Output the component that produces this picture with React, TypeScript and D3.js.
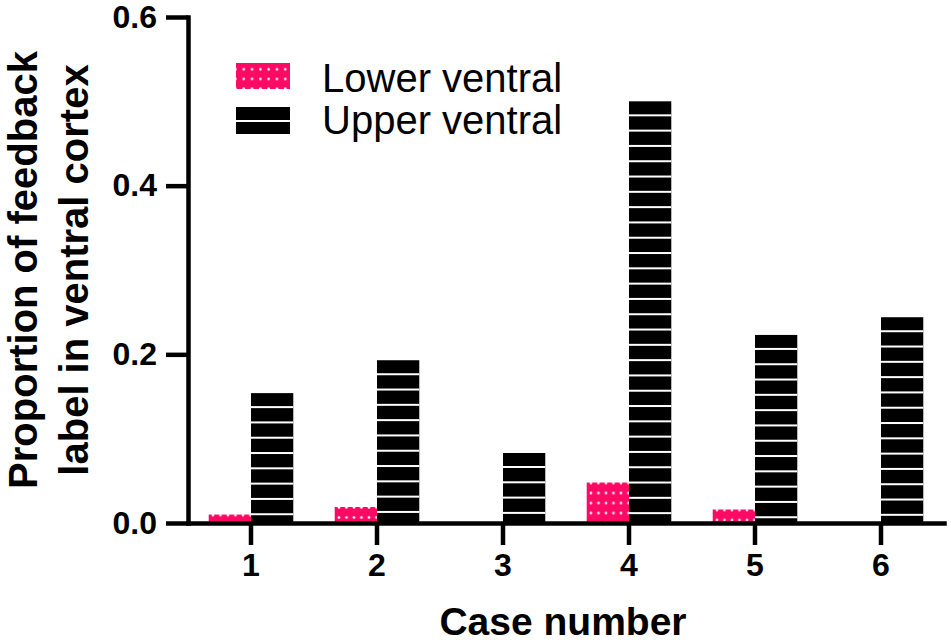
import { useRef, useEffect } from 'react';
import * as d3 from 'd3';

const cases = ['1', '2', '3', '4', '5', '6'];
const seriesNames = ['Lower ventral', 'Upper ventral'];
const lowerVentral = [0.01, 0.019, 0, 0.048, 0.016, 0];
const upperVentral = [0.154, 0.193, 0.083, 0.5, 0.223, 0.244];
const yTicks = [0, 0.2, 0.4, 0.6];

const PINK = '#fe0a64';
const FONT = "'Liberation Sans', Arial, sans-serif";

const width = 951;
const height = 644;
const margin = { top: 17, right: 7, bottom: 121, left: 188 };

// pink fill with a grid of small white dots, anchored at (ox, oy)
const addDotPattern = (
  defs: d3.Selection<SVGDefsElement, unknown, null, undefined>,
  id: string,
  ox: number,
  oy: number,
  w: number,
  h: number,
) => {
  const p = defs
    .append('pattern')
    .attr('id', id)
    .attr('patternUnits', 'userSpaceOnUse')
    .attr('width', w)
    .attr('height', h)
    .attr('patternTransform', `translate(${ox},${oy})`);
  p.append('rect').attr('width', w).attr('height', h).attr('fill', PINK);
  p.append('circle').attr('cx', w / 2).attr('cy', 3.5).attr('r', 1.3).attr('fill', '#fff');
};

export default function App() {
  const svgRef = useRef<SVGSVGElement>(null);

  useEffect(() => {
    if (!svgRef.current) return;
    const svg = d3.select(svgRef.current);
    svg.selectAll('*').remove();

    const innerWidth = width - margin.left - margin.right;
    const innerHeight = height - margin.top - margin.bottom;

    const x = d3.scaleBand<string>().domain(cases).range([0, innerWidth]);
    const xSub = d3
      .scaleBand<string>()
      .domain(seriesNames)
      .range([0, x.bandwidth()])
      .paddingOuter(0.49);
    const y = d3.scaleLinear().domain([0, 0.6]).range([innerHeight, 0]);

    const defs = svg.append('defs');
    const g = svg
      .append('g')
      .attr('transform', `translate(${margin.left},${margin.top})`);

    const rows = cases.map((c, i) => ({ c, lower: lowerVentral[i], upper: upperVentral[i] }));

    // lower ventral bars
    rows.forEach((d) => {
      if (d.lower <= 0) return;
      const bx = x(d.c)! + xSub('Lower ventral')!;
      const by = y(d.lower);
      const id = `dots-${d.c}`;
      addDotPattern(defs, id, bx + margin.left, by + margin.top, 7.5, 10);
      g.append('rect')
        .attr('x', bx)
        .attr('y', by)
        .attr('width', xSub.bandwidth())
        .attr('height', innerHeight - by)
        .attr('fill', `url(#${id})`);
    });

    // upper ventral bars: black with thin white stripes from the top
    rows.forEach((d) => {
      const bx = x(d.c)! + xSub('Upper ventral')!;
      const by = y(d.upper);
      g.append('rect')
        .attr('x', bx)
        .attr('y', by)
        .attr('width', xSub.bandwidth())
        .attr('height', innerHeight - by)
        .attr('fill', '#000');
      g.selectAll(null)
        .data(d3.range(by + 13, innerHeight - 4, 15.3))
        .join('rect')
        .attr('x', bx)
        .attr('y', (s) => s)
        .attr('width', xSub.bandwidth())
        .attr('height', 2)
        .attr('fill', '#fff');
    });

    // axes
    const yAxis = d3
      .axisLeft(y)
      .tickValues(yTicks)
      .tickFormat(d3.format('.1f'))
      .tickSize(22)
      .tickSizeOuter(0)
      .tickPadding(9);
    const xAxis = d3.axisBottom(x).tickSize(22).tickSizeOuter(0).tickPadding(8);

    const ya = g.append('g').call(yAxis);
    const xa = g.append('g').attr('transform', `translate(0,${innerHeight})`).call(xAxis);

    [ya, xa].forEach((a) => {
      a.selectAll('path, line').attr('stroke', '#000').attr('stroke-width', 4.5);
      a.select('path.domain').attr('stroke-linecap', 'square');
      a.selectAll('text')
        .attr('fill', '#000')
        .attr('font-family', FONT)
        .attr('font-weight', 'bold')
        .attr('font-size', 32);
    });

    // axis titles
    svg
      .append('text')
      .attr('x', margin.left + innerWidth / 2 - 3)
      .attr('y', 635)
      .attr('text-anchor', 'middle')
      .attr('font-family', FONT)
      .attr('font-weight', 'bold')
      .attr('font-size', 39)
      .text('Case number');

    const yTitle = ['Proportion of feedback', 'label in ventral cortex'];
    yTitle.forEach((t, i) => {
      svg
        .append('text')
        .attr('transform', `translate(${37 + i * 51},270) rotate(-90)`)
        .attr('text-anchor', 'middle')
        .attr('font-family', FONT)
        .attr('font-weight', 'bold')
        .attr('font-size', 40)
        .text(t);
    });

    // legend
    const legend = svg.append('g').attr('transform', 'translate(236,63)');
    addDotPattern(defs, 'dots-legend', 236, 61, 8.3, 9.7);
    legend
      .append('rect')
      .attr('width', 54)
      .attr('height', 26)
      .attr('fill', 'url(#dots-legend)');
    legend
      .append('rect')
      .attr('y', 44)
      .attr('width', 54)
      .attr('height', 27)
      .attr('fill', '#000');
    legend
      .append('rect')
      .attr('y', 57)
      .attr('width', 54)
      .attr('height', 2)
      .attr('fill', '#fff');
    seriesNames.forEach((name, i) => {
      legend
        .append('text')
        .attr('x', 86)
        .attr('y', 29 + i * 42)
        .attr('font-family', FONT)
        .attr('font-size', 40)
        .attr('fill', '#000')
        .text(name);
    });
  }, []);

  return (
    <svg
      ref={svgRef}
      width={width}
      height={height}
      style={{ position: 'absolute', left: 0, top: 0, background: '#fff' }}
    />
  );
}
